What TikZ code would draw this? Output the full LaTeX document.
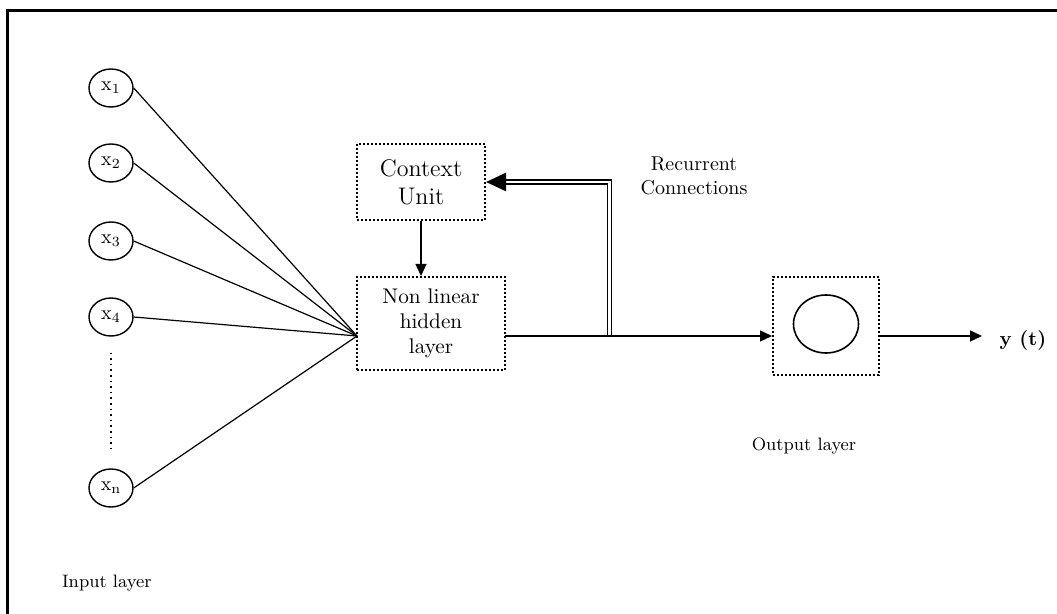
\documentclass[tikz,border=0pt]{standalone}
\usepackage{tikz}
\usetikzlibrary{arrows.meta,shapes.geometric}

\begin{document}
\begin{tikzpicture}[
  x=0.5pt,y=-0.5pt,
  font=\normalsize,
  inp/.style={ellipse,draw,line width=0.7pt,minimum width=22pt,
              minimum height=19pt,inner sep=0pt,font=\normalsize},
  unit/.style={draw,densely dotted,line width=1pt,align=center},
  lnk/.style={line width=0.6pt},
  arr/.style={-{Triangle[length=6pt,width=5.5pt]},line width=0.7pt},
  dbl/.style={double,double distance=1.35pt,line width=0.65pt},
  lbl/.style={font=\small}
]
\useasboundingbox (0,0) rectangle (1057,614);

% Frame (top and left edge only)
\draw[line width=1.5pt] (7,614) -- (7,11) -- (1057,11);

% Input layer
\node[inp] (x1) at (111,88)  {x\textsubscript{1}};
\node[inp] (x2) at (111,163) {x\textsubscript{2}};
\node[inp] (x3) at (111,241) {x\textsubscript{3}};
\node[inp] (x4) at (111,317) {x\textsubscript{4}};
\node[inp] (xn) at (111,488) {x\textsubscript{n}};
\draw[dotted,line width=0.8pt,shorten <=8pt,shorten >=10pt] (x4) -- (xn);

% Context and hidden units
\node[unit,minimum width=64pt,minimum height=38pt,font=\large] (ctx) at (421,182) {Context\\Unit};
\node[unit,minimum width=74pt,minimum height=46.5pt,font=\fontsize{10.6}{12.5}\selectfont] (hid) at (431,323.5) {Non linear\\hidden\\layer};

% Output layer
\node[unit,minimum width=53pt,minimum height=49pt] (outbox) at (826,326) {};
\node[ellipse,draw,line width=0.8pt,minimum width=32.5pt,minimum height=29pt] (neuron) at (826,324) {};
\node[font=\bfseries] (yt) at (1023,340) {y (t)};

% Labels
\node[align=center] (rec) at (694,176) {Recurrent\\Connections};
\node[lbl] (outlbl) at (804,446) {Output layer};
\node[lbl,anchor=west] (inlbl) at (55,583) {Input layer};

% Connection points
\coordinate (hin)  at (357,336);
\coordinate (hout) at (505,336);
\coordinate (jn)   at (609.5,336);
\coordinate (ret)  at (609.5,182);
\coordinate (tipb) at (497,182);
\coordinate (yend) at (982,336);

% Inputs to hidden layer
\draw[lnk] (x1.east) -- (hin);
\draw[lnk] (x2.east) -- (hin);
\draw[lnk] (x3.east) -- (hin);
\draw[lnk] (x4.east) -- (hin);
\draw[lnk] (xn.east) -- (hin);

% Context feeds hidden layer
\draw[arr] (ctx.south) -- (ctx.south |- hid.north);

% Recurrent connections
\draw[dbl] (jn) -- (ret) -- (tipb);
\draw[-{Triangle[length=10pt,width=9pt]},line width=1.2pt] (tipb) -- (ctx.east);

% Hidden to output
\draw[arr] (hout) -- (outbox.west |- hout);
\draw[arr] (outbox.east |- hout) -- (yend);
\end{tikzpicture}
\end{document}
